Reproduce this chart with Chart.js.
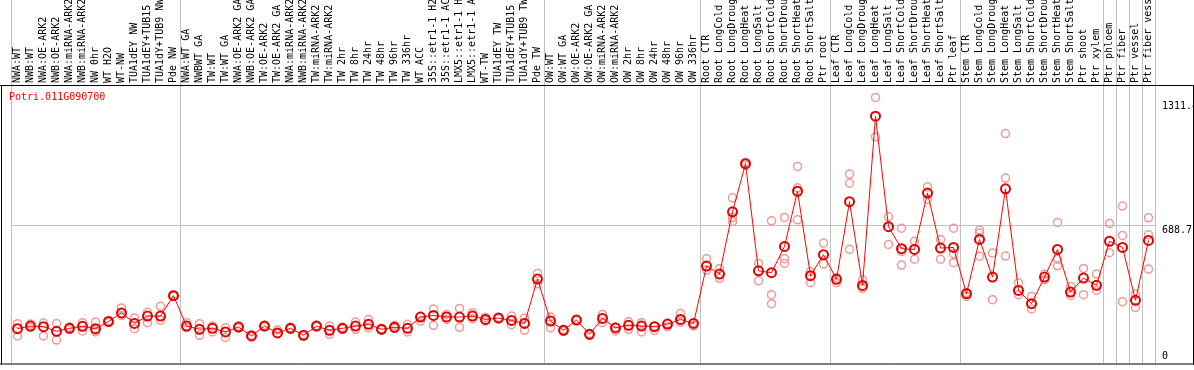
<!DOCTYPE html>
<html>
<head>
<meta charset="utf-8">
<title>Potri.011G090700</title>
<script src="https://cdn.jsdelivr.net/npm/chart.js@4/dist/chart.umd.min.js"></script>
<style>
  body { margin: 0; background: #fff; }
  canvas { display: block; }
</style>
</head>
<body>
<canvas id="exprCanvas" width="1194" height="370"></canvas>
<script>
var geneId = "Potri.011G090700";

var sampleLabels = [
    "NWA:WT", "NWB:WT", "NWA:OE-ARK2", "NWB:OE-ARK2", "NWA:miRNA-ARK2", "NWB:miRNA-ARK2", "NW 0hr", "WT H2O", "WT-NW", "TUA1dEY NW",
    "TUA1dEY+TUB15 NW", "TUA1dY+TUB9 NW", "Pde NW", "NWA:WT GA", "NWBWT GA", "TW:WT", "TW:WT GA", "NWA:OE-ARK2 GA", "NWB:OE-ARK2 GA", "TW:OE-ARK2",
    "TW:OE-ARK2 GA", "NWA:miRNA-ARK2 GA", "NWB:miRNA-ARK2 GA", "TW:miRNA-ARK2", "TW:miRNA-ARK2 GA", "TW 2hr", "TW 8hr", "TW 24hr", "TW 48hr", "TW 96hr",
    "TW 336hr", "WT ACC", "35S::etr1-1 H2O", "35S::etr1-1 ACC", "LMX5::etr1-1 H2O", "LMX5::etr1-1 ACC", "WT-TW", "TUA1dEY TW", "TUA1dEY+TUB15 TW", "TUA1dY+TUB9 TW",
    "Pde TW", "OW:WT", "OW:WT GA", "OW:OE-ARK2", "OW:OE-ARK2 GA", "OW:miRNA-ARK2", "OW:miRNA-ARK2 GA", "OW 2hr", "OW 8hr", "OW 24hr",
    "OW 48hr", "OW 96hr", "OW 336hr", "Root CTR", "Root LongCold", "Root LongDrought", "Root LongHeat", "Root LongSalt", "Root ShortCold", "Root ShortDrought",
    "Root ShortHeat", "Root ShortSalt", "Ptr root", "Leaf CTR", "Leaf LongCold", "Leaf LongDrought", "Leaf LongHeat", "Leaf LongSalt", "Leaf ShortCold", "Leaf ShortDrought",
    "Leaf ShortHeat", "Leaf ShortSalt", "Ptr leaf", "Stem CTR", "Stem LongCold", "Stem LongDrought", "Stem LongHeat", "Stem LongSalt", "Stem ShortCold", "Stem ShortDrought",
    "Stem ShortHeat", "Stem ShortSalt", "Ptr shoot", "Ptr xylem", "Ptr phloem", "Ptr fiber", "Ptr vessel", "Ptr fiber vessel"
];

// mean expression per sample
var meanValues = [
    174, 187, 184, 161, 176, 186, 174, 210, 253, 200,
    237, 237, 339, 187, 171, 176, 158, 182, 138, 187,
    153, 176, 141, 187, 166, 176, 187, 196, 171, 181,
    176, 232, 240, 233, 232, 237, 220, 227, 215, 200,
    422, 212, 166, 217, 146, 225, 178, 191, 187, 184,
    197, 220, 200, 487, 447, 758, 999, 463, 454, 585,
    861, 439, 544, 421, 809, 390, 1236, 684, 574, 570,
    852, 577, 580, 349, 620, 432, 873, 365, 299, 432,
    570, 357, 427, 391, 611, 580, 316, 615
];

// replicates
var rep1Values = [
    199, 197, 202, 200, 182, 204, 207, 214, 278, 227,
    256, 286, 343, 204, 199, 187, 179, 186, 142, 190,
    168, 180, 144, 190, 187, 180, 207, 220, 174, 191,
    196, 236, 273, 245, 275, 253, 230, 230, 237, 228,
    450, 233, 170, 220, 150, 245, 182, 209, 204, 188,
    200, 250, 203, 524, 475, 828, 1005, 500, 713, 730,
    985, 459, 602, 430, 947, 418, 1330, 733, 676, 611,
    883, 620, 676, 355, 667, 552, 1149, 404, 335, 447,
    705, 385, 475, 447, 700, 787, 347, 728
];
var rep2Values = [
    138, 180, 138, 117, 170, 163, 158, 205, 240, 174,
    204, 216, 336, 179, 141, 158, 130, 178, 134, 184,
    150, 172, 138, 184, 146, 172, 171, 179, 168, 176,
    158, 212, 191, 220, 181, 224, 212, 224, 194, 166,
    398, 179, 162, 214, 142, 204, 163, 171, 158, 166,
    184, 207, 187, 467, 426, 730, 990, 413, 344, 524,
    878, 404, 497, 404, 901, 376, 1133, 595, 492, 521,
    820, 521, 549, 335, 652, 319, 927, 344, 273, 418,
    521, 340, 344, 365, 554, 640, 280, 643
];
var rep3Values = [
    null, null, null, null, null, null, 163, null, null, null,
    null, null, null, null, null, null, null, null, null, null,
    null, null, null, null, null, null, null, null, null, null,
    null, null, null, null, null, null, null, null, null, null,
    null, null, null, null, null, null, null, null, null, null,
    null, null, null, null, null, 710, null, null, 299, 500,
    718, null, null, null, 571, null, null, null, 560, null,
    null, null, 504, null, 536, null, 537, null, null, null,
    488, null, null, null, null, 309, null, 472
];

var yTickValues = [0, 688.7, 1311.4];
var yMax = 1392;

// vertical separators: index of the category boundary
var groupBreaks = [0, 13, 41, 53, 63, 73, 84, 85, 86, 87];

var monoFont = { family: "'DejaVu Sans Mono', monospace", size: 10 };

var framePlugin = {
    id: 'frame',
    afterDraw: function(chart) {
        var ctx = chart.ctx;
        var area = chart.chartArea;
        ctx.save();
        ctx.strokeStyle = '#000';
        ctx.lineWidth = 1;
        ctx.beginPath();
        ctx.moveTo(0, area.top + 0.5);
        ctx.lineTo(chart.width, area.top + 0.5);
        ctx.moveTo(0, area.bottom + 0.5);
        ctx.lineTo(chart.width, area.bottom + 0.5);
        ctx.moveTo(1.5, area.top);
        ctx.lineTo(1.5, area.bottom + 1);
        ctx.moveTo(chart.width - 0.5, area.top);
        ctx.lineTo(chart.width - 0.5, area.bottom + 1);
        ctx.stroke();
        ctx.fillStyle = '#ff0000';
        ctx.font = "10px 'DejaVu Sans Mono', monospace";
        ctx.textBaseline = 'middle';
        ctx.fillText(geneId, 9, area.top + 12);
        ctx.restore();
    }
};

function repDataset(values) {
    return {
        data: values,
        showLine: false,
        borderColor: '#ee9a9a',
        backgroundColor: 'rgba(0,0,0,0)',
        pointRadius: 4,
        pointBorderWidth: 1.5,
        pointBorderColor: '#ee9a9a',
        pointBackgroundColor: 'rgba(0,0,0,0)',
        order: 2
    };
}

var config = {
    type: 'line',
    data: {
        labels: sampleLabels,
        datasets: [
            repDataset(rep1Values),
            repDataset(rep2Values),
            repDataset(rep3Values),
            {
                data: meanValues,
                borderColor: '#ff0000',
                borderWidth: 1,
                backgroundColor: 'rgba(0,0,0,0)',
                pointRadius: 4.5,
                pointBorderWidth: 2,
                pointBorderColor: '#e00000',
                pointBackgroundColor: 'rgba(0,0,0,0)',
                tension: 0,
                order: 0
            }
        ]
    },
    options: {
        responsive: false,
        animation: false,
        devicePixelRatio: 1,
        layout: { padding: { left: 11, right: 0, top: 0, bottom: 2 } },
        plugins: {
            legend: { display: false },
            tooltip: { enabled: false }
        },
        scales: {
            x: {
                type: 'category',
                position: 'top',
                offset: true,
                weight: 1,
                grid: { display: false, drawTicks: false },
                border: { display: false },
                ticks: {
                    autoSkip: false,
                    minRotation: 90,
                    maxRotation: 90,
                    padding: 2,
                    labelOffset: 12,
                    color: '#000',
                    font: monoFont
                },
                afterFit: function(scale) { scale.height = 85; }
            },
            x2: {
                type: 'category',
                position: 'top',
                offset: true,
                weight: 0,
                ticks: { display: false },
                border: { display: false },
                grid: {
                    offset: true,
                    drawTicks: true,
                    tickLength: 85,
                    lineWidth: 1,
                    color: function(c) {
                        if (c.index === undefined || groupBreaks.indexOf(c.index) >= 0) return '#c0c0c0';
                        return 'rgba(0,0,0,0)';
                    }
                },
                afterFit: function(scale) { scale.height = 0; }
            },
            y: {
                position: 'right',
                min: 0,
                max: yMax,
                afterBuildTicks: function(scale) {
                    scale.ticks = yTickValues.map(function(v) { return { value: v }; });
                },
                grid: {
                    drawTicks: false,
                    color: function(c) {
                        return (c.tick && c.tick.value === 688.7) ? '#c0c0c0' : 'rgba(0,0,0,0)';
                    }
                },
                border: { display: false },
                ticks: {
                    align: 'start',
                    padding: 7,
                    color: '#000',
                    font: monoFont,
                    callback: function(v) {
                        // the zero label sits above the bottom edge
                        return v === 0 ? ['0', '', ''] : String(v);
                    }
                },
                afterFit: function(scale) {
                    scale.width = 39;
                    scale.paddingTop = 0;
                    scale.paddingBottom = 0;
                }
            }
        }
    },
    plugins: [framePlugin]
};

new Chart(document.getElementById('exprCanvas'), config);
</script>
</body>
</html>
